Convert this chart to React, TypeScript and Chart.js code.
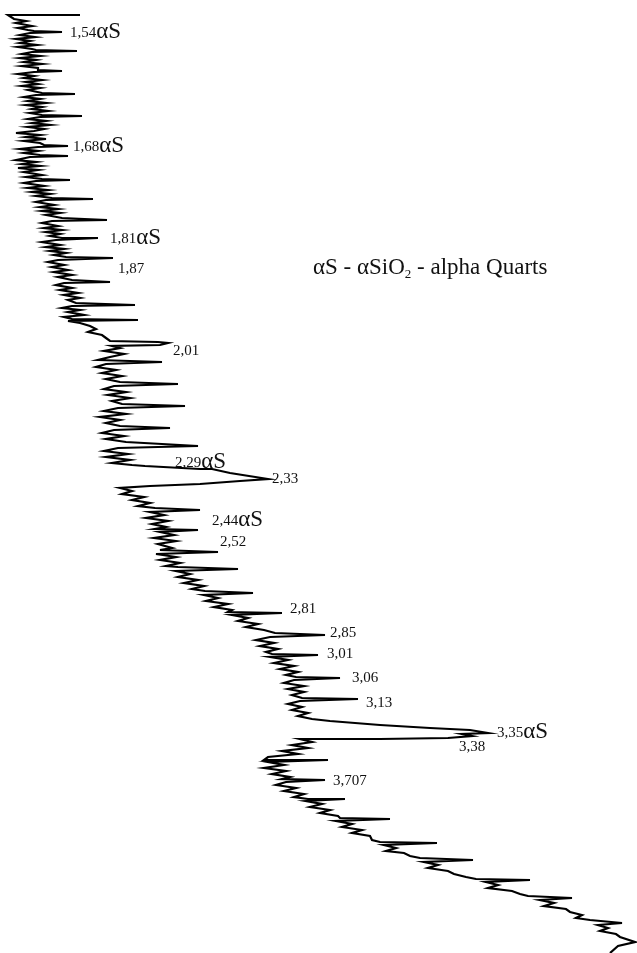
import React, { useEffect, useRef } from "react";
import { Chart, registerables } from "chart.js";

Chart.register(...registerables);

// Diffraction trace: [intensity, scan position] (arbitrary units, position increases downward)
const tracePoints: [number, number][] = [
  [80, 15], [8, 15], [14, 19], [26, 21], [16, 23], [32, 26], [18, 28], [28, 30], [34, 31],
  [62, 32], [30, 33], [20, 35], [35, 37], [16, 39], [30, 41], [20, 43], [37, 45], [18, 47], [32, 49], [36, 50],
  [77, 51], [32, 52], [22, 54], [40, 56], [20, 58], [36, 60], [24, 62], [42, 64], [22, 66], [38, 68], [38, 70],
  [62, 71], [34, 72], [18, 74], [34, 76], [24, 78], [42, 80], [26, 82], [38, 84], [22, 86], [40, 88], [28, 90], [42, 93],
  [75, 94], [36, 95], [24, 97], [40, 99], [28, 101], [46, 103], [26, 105], [42, 107], [32, 109], [48, 111], [30, 113], [42, 115],
  [82, 116], [40, 117], [28, 119], [46, 121], [32, 123], [50, 125], [28, 127], [44, 129], [34, 131], [16, 133], [40, 135], [26, 137], [46, 139], [24, 141], [40, 143], [44, 145],
  [68, 146], [38, 147], [20, 149], [38, 151], [24, 153], [40, 155],
  [68, 156], [30, 157], [16, 160], [36, 162], [22, 164], [40, 166], [18, 168], [38, 170], [24, 172], [42, 175], [26, 177], [42, 179],
  [70, 180], [36, 181], [24, 183], [44, 186], [28, 188], [48, 190], [32, 192], [50, 194], [36, 196], [52, 198],
  [93, 199], [46, 200], [36, 202], [54, 205], [40, 207], [58, 209], [42, 211], [60, 213], [46, 215], [62, 218],
  [107, 220], [52, 221], [42, 223], [58, 226], [44, 228], [62, 230], [46, 232], [60, 234], [50, 236], [62, 238],
  [98, 238], [56, 240], [42, 242], [60, 245], [46, 247], [64, 249], [50, 251], [66, 253], [54, 255], [66, 257],
  [113, 258], [58, 260], [48, 262], [64, 265], [52, 267], [68, 270], [54, 272], [72, 275], [58, 277], [72, 280],
  [110, 282], [64, 283], [56, 285], [72, 288], [60, 290], [78, 293], [64, 295], [80, 298], [68, 300], [76, 303],
  [135, 305], [72, 306], [62, 308], [80, 310], [68, 312], [84, 315], [64, 317], [72, 319],
  [138, 320], [68, 321], [80, 323], [90, 326], [96, 329], [88, 332], [102, 335], [106, 338], [110, 341],
  [158, 342], [168, 343], [160, 345], [112, 346], [120, 348], [104, 351], [124, 354], [110, 357], [98, 360],
  [162, 362], [106, 364], [96, 367], [116, 370], [102, 373], [122, 376], [106, 379], [120, 382],
  [178, 384], [114, 386], [104, 389], [126, 392], [108, 395], [130, 398], [112, 401], [122, 404],
  [185, 406], [118, 408], [104, 411], [126, 414], [100, 417], [120, 420], [106, 423], [120, 426],
  [170, 428], [114, 430], [102, 433], [124, 436], [106, 439], [126, 442],
  [198, 446], [118, 448], [104, 451], [128, 454], [106, 457], [130, 460], [112, 463], [132, 465], [145, 466],
  [200, 469], [212, 469], [230, 473], [268, 479], [240, 481], [200, 484], [150, 486], [120, 488],
  [132, 491], [122, 494], [144, 497], [132, 500], [150, 503], [138, 506], [155, 508],
  [200, 510], [150, 512], [164, 515], [146, 518], [168, 521], [152, 524], [166, 527], [155, 529],
  [198, 530], [160, 532], [174, 535], [154, 538], [176, 541], [158, 544], [172, 548], [160, 550],
  [218, 552], [156, 554], [176, 557], [160, 560], [180, 563], [166, 566], [178, 567],
  [238, 569], [176, 571], [190, 574], [178, 577], [198, 580], [184, 583], [204, 586], [192, 589], [205, 591],
  [253, 593], [204, 595], [218, 598], [206, 601], [228, 604], [214, 607], [232, 610], [228, 612],
  [282, 613], [232, 615], [248, 618], [238, 621], [258, 624], [246, 627], [264, 630], [275, 633],
  [325, 635], [270, 637], [256, 640], [274, 643], [260, 646], [278, 649], [266, 652], [272, 654],
  [318, 655], [270, 657], [288, 660], [274, 663], [294, 666], [280, 669], [298, 672], [286, 675], [296, 677],
  [340, 678], [294, 680], [284, 683], [304, 686], [288, 689], [304, 692], [292, 695], [302, 698],
  [358, 699], [300, 701], [288, 704], [302, 707], [292, 710], [308, 713], [298, 716], [312, 719],
  [330, 721], [380, 725], [430, 728], [470, 730], [488, 733], [462, 734], [472, 736], [448, 738],
  [380, 739], [300, 739], [312, 742], [292, 745], [308, 748], [282, 751], [298, 754], [268, 757], [264, 760],
  [328, 760], [268, 762], [284, 765], [264, 768], [286, 771], [272, 774], [290, 777], [282, 779],
  [325, 780], [286, 782], [276, 785], [296, 788], [284, 791], [304, 794], [294, 797], [308, 799],
  [345, 799], [306, 801], [322, 804], [310, 807], [330, 810], [320, 813], [338, 816], [340, 818],
  [390, 819], [336, 821], [352, 824], [342, 827], [362, 830], [352, 833], [370, 836], [372, 840], [380, 842],
  [437, 843], [384, 845], [396, 848], [386, 851], [404, 853], [410, 856], [420, 858],
  [473, 860], [424, 862], [438, 865], [428, 868], [448, 871], [454, 874], [466, 877], [476, 879],
  [530, 880], [486, 882], [498, 885], [488, 888], [512, 891], [520, 894], [528, 896],
  [572, 898], [540, 900], [554, 903], [544, 906], [566, 909], [570, 912], [582, 915], [576, 918], [590, 920],
  [622, 923], [598, 925], [608, 928], [600, 931], [616, 934], [620, 937], [635, 942], [618, 946], [610, 953],
];

// Peak annotations (d-spacing labels)
const peakLabels = [
  "1,54αS", "1,68αS", "1,81αS", "1,87", "2,01", "2,29αS", "2,33", "2,44αS", "2,52",
  "2,81", "2,85", "3,01", "3,06", "3,13", "3,35αS", "3,38", "3,707",
];
const labelIntensity = [70, 73, 110, 118, 173, 175, 272, 212, 220, 290, 330, 327, 352, 366, 497, 459, 333];
const labelPosition = [32, 146, 238, 268, 350, 462, 478, 520, 541, 608, 632, 653, 677, 702, 732, 746, 780];

const legendText = ["αS - αSiO", "2", " - alpha Quarts"];
const legendIntensity = 313;
const legendPosition = 268;

const SERIF = "'Liberation Serif', 'Times New Roman', serif";

const labelPlugin = {
  id: "peakLabels",
  afterDatasetsDraw(chart: any) {
    const { ctx, scales } = chart;
    const xs = scales.x;
    const ys = scales.y;
    ctx.save();
    ctx.fillStyle = "#111";
    ctx.textBaseline = "middle";
    ctx.textAlign = "left";
    peakLabels.forEach((lab, i) => {
      let px = xs.getPixelForValue(labelIntensity[i]);
      const py = ys.getPixelForValue(labelPosition[i]);
      const hasS = lab.endsWith("αS");
      const num = hasS ? lab.slice(0, -2) : lab;
      ctx.font = `15px ${SERIF}`;
      ctx.fillText(num, px, py + 1);
      px += ctx.measureText(num).width;
      if (hasS) {
        ctx.font = `23px ${SERIF}`;
        ctx.fillText("αS", px, py);
      }
    });
    // caption
    let lx = xs.getPixelForValue(legendIntensity);
    const ly = ys.getPixelForValue(legendPosition);
    ctx.font = `23px ${SERIF}`;
    ctx.fillText(legendText[0], lx, ly);
    lx += ctx.measureText(legendText[0]).width;
    ctx.font = `13px ${SERIF}`;
    ctx.fillText(legendText[1], lx, ly + 7);
    lx += ctx.measureText(legendText[1]).width;
    ctx.font = `23px ${SERIF}`;
    ctx.fillText(legendText[2], lx, ly);
    ctx.restore();
  },
};

export default function App() {
  const ref = useRef<HTMLCanvasElement | null>(null);
  useEffect(() => {
    if (!ref.current) return;
    const chart = new Chart(ref.current, {
      type: "scatter",
      data: {
        datasets: [
          {
            data: tracePoints.map(([x, y]) => ({ x, y })),
            showLine: true,
            borderColor: "#000",
            borderWidth: 2.2,
            pointRadius: 0,
            tension: 0,
          },
        ],
      },
      options: {
        animation: false,
        responsive: true,
        maintainAspectRatio: false,
        layout: { padding: 0 },
        plugins: { legend: { display: false }, tooltip: { enabled: false }, title: { display: false } },
        scales: {
          x: { type: "linear", min: 0, max: 637, display: false },
          y: { type: "linear", min: 0, max: 953, reverse: true, display: false },
        },
      },
      plugins: [labelPlugin],
    });
    return () => chart.destroy();
  }, []);
  return (
    <div style={{ position: "absolute", left: 0, top: 0, width: 637, height: 953, background: "#fff" }}>
      <canvas ref={ref} />
    </div>
  );
}
